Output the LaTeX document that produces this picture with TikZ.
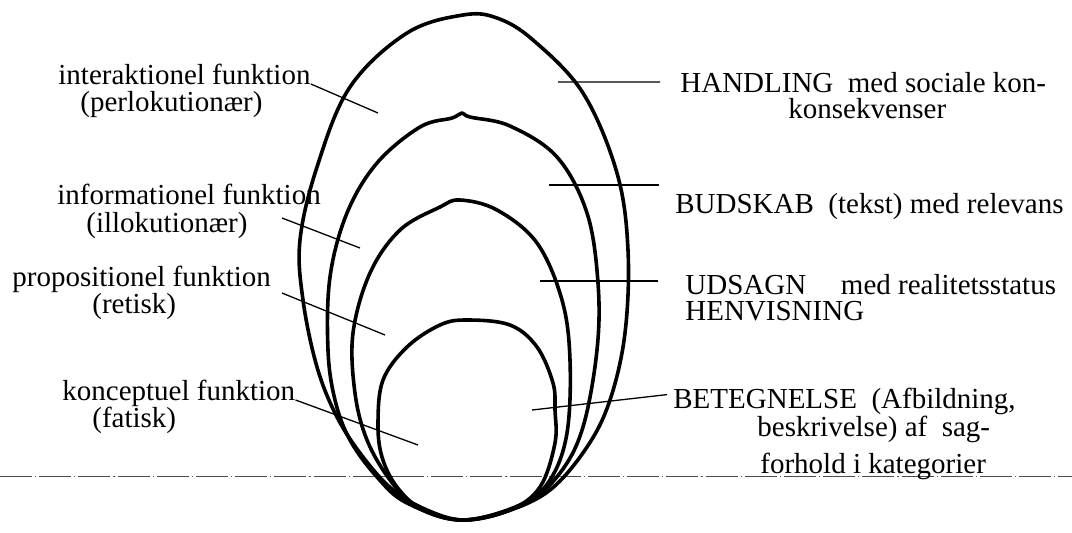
\documentclass[tikz,border=0pt]{standalone}
\usepackage{fontspec}
\setmainfont{Liberation Serif}
\usepackage{tikz}
\usetikzlibrary{positioning}
\tikzset{
  shell/.style={draw, line width=1.8pt, line join=round},
  leader/.style={draw, line width=0.65pt},
  groundline/.style={draw=black!70, line width=0.5pt, dash pattern=on 16pt off 1.5pt on 0.6pt off 1.5pt},
  lbl/.style={anchor=base west, inner sep=0pt, font=\fontsize{14.5}{16}\selectfont}
}

\begin{document}
\begin{tikzpicture}[x=0.5pt, y=-0.5pt]
  \useasboundingbox (0,0) rectangle (1072,532);
  \coordinate (dashL) at (0,476);
  \coordinate (dashR) at (1072,476);
  \draw[groundline] (dashL) -- (dashR);

  \draw[shell] plot[smooth cycle, tension=0.6] coordinates {(463,520) (427,510) (393,490) (363,457) (337,417) (317,367) (303,300) (300,240) (317,167) (350,87) (407,33) (463,15) (497,18) (533,40) (583,93) (617,173) (628,250) (625,333) (610,400) (587,447) (550,490) (505,512)};
  \draw[shell] plot[smooth cycle, tension=0.6] coordinates {(463,520) (407,503) (377,477) (350,440) (335,400) (328,350) (330,277) (347,213) (377,163) (420,127) (452,118) (462,113) (470,117) (510,126) (557,157) (587,213) (598,283) (597,350) (583,427) (560,473) (525,503)};
  \draw[shell] plot[smooth cycle, tension=0.6] coordinates {(463,520) (417,507) (390,480) (367,440) (355,393) (353,333) (370,273) (400,230) (440,207) (460,200) (497,210) (537,243) (562,300) (570,360) (567,433) (550,480) (520,505)};
  \draw[shell] plot[smooth cycle, tension=0.6] coordinates {(463,520) (423,510) (397,487) (382,457) (378,423) (383,380) (407,347) (440,325) (467,320) (510,325) (537,347) (553,383) (555,410) (555,443) (540,487) (510,510)};

  \node[lbl] (int1) at (58,84) {interaktionel funktion};
  \node[lbl] (int2) at (80,111) {(perlokutionær)};
  \node[lbl] (inf1) at (57,204) {informationel funktion};
  \node[lbl] (inf2) at (86,232) {(illokutionær)};
  \node[lbl] (pro1) at (12,286) {propositionel funktion};
  \node[lbl] (pro2) at (92,313) {(retisk)};
  \node[lbl] (kon1) at (62,400) {konceptuel funktion};
  \node[lbl] (kon2) at (92,427) {(fatisk)};

  \node[lbl] (hand1) at (680,92) {HANDLING\ \ med sociale kon-};
  \node[lbl] (hand2) at (788,118) {konsekvenser};
  \node[lbl] (bud1) at (675,213) {BUDSKAB\ \ (tekst) med relevans};
  \node[lbl] (uds1) at (685,294) {UDSAGN\hspace{1.2em}med realitetsstatus};
  \node[lbl] (uds2) at (685,320) {HENVISNING};
  \node[lbl] (bet1) at (673,408) {BETEGNELSE\ \ (Afbildning,};
  \node[lbl] (bet2) at (757,436) {beskrivelse) af\ \ sag-};
  \node[lbl] (bet3) at (760,473) {forhold i kategorier};

  \coordinate (intIn) at (378,113);
  \coordinate (infOut) at (282,218);
  \coordinate (infIn) at (360,248);
  \coordinate (proOut) at (282,293);
  \coordinate (proIn) at (385,335);
  \coordinate (konIn) at (418,445);
  \coordinate (hIn) at (558,82);
  \coordinate (bIn) at (549,185);
  \coordinate (uIn) at (540,281);
  \coordinate (gIn) at (532,410);

  \draw[leader] (int1.base east) -- (intIn);
  \draw[leader] (infOut) -- (infIn);
  \draw[leader] (proOut) -- (proIn);
  \draw[leader] (kon1.base east) -- (konIn);
  \draw[leader, shorten >=10pt] (hIn) -- (hand1.west);
  \draw[leader, shorten >=8pt] (bIn) -- (bIn -| bud1.west);
  \draw[leader, shorten >=13.5pt] (uIn) -- (uIn -| uds1.west);
  \draw[leader, shorten >=3pt] (gIn) -- ([yshift=3.5pt]bet1.west);
\end{tikzpicture}
\end{document}
